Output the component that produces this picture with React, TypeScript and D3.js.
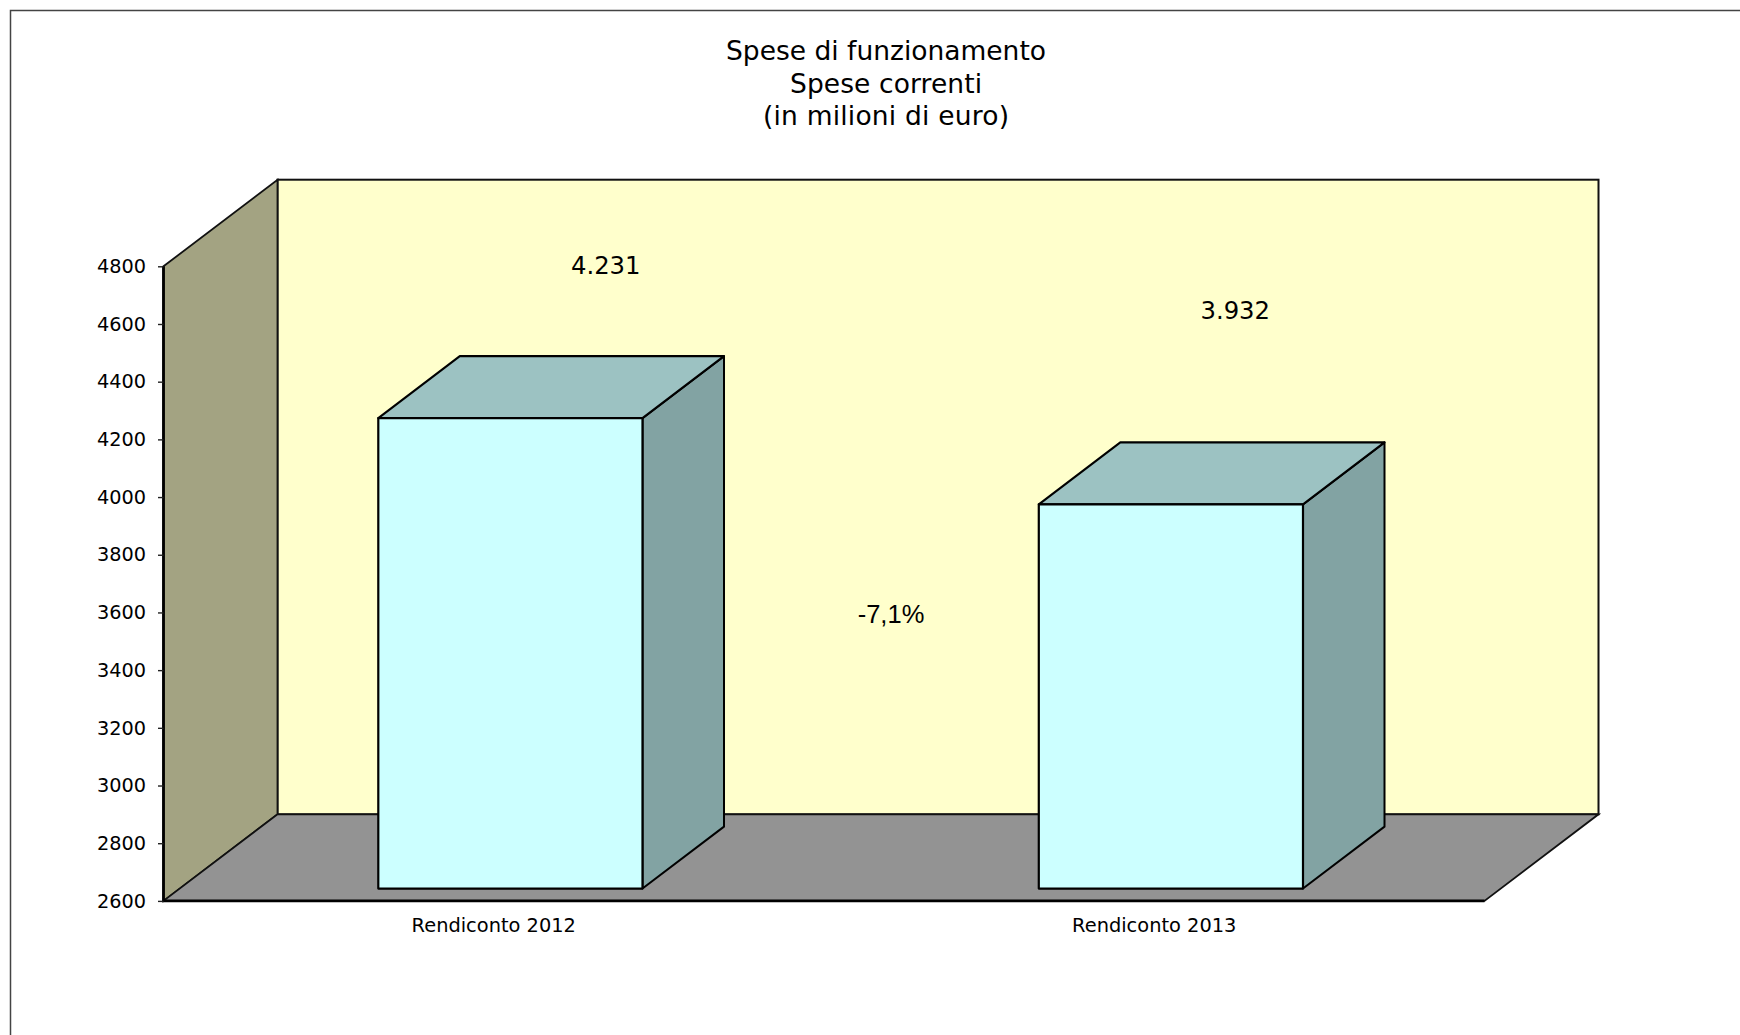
import React, { useEffect, useRef } from "react";
import * as d3 from "d3";

const categories = ["Rendiconto 2012", "Rendiconto 2013"];
const values = [4231, 3932];
const valueLabels = ["4.231", "3.932"];
const titleLines = ["Spese di funzionamento", "Spese correnti", "(in milioni di euro)"];
const ticks = [2600, 2800, 3000, 3200, 3400, 3600, 3800, 4000, 4200, 4400, 4600, 4800];
const changeLabel = "-7,1%";

const FONT = "'DejaVu Sans', Verdana, sans-serif";

const App: React.FC = () => {
  const svgRef = useRef<SVGSVGElement | null>(null);

  useEffect(() => {
    if (!svgRef.current) return;
    const svg = d3.select(svgRef.current);
    svg.selectAll("*").remove();

    const width = 1740;
    const height = 1035;

    // front plane of the box and depth of the 3d offset
    const left = 163.5;
    const right = 1484.5;
    const bottom = 900.9;
    const top = 266.3;
    const depthX = 114;
    const depthY = 86.6;
    const barDepth = 0.715;

    const y = d3.scaleLinear().domain([2600, 4800]).range([bottom, top]);
    const x = d3.scaleBand<string>().domain(categories).range([left, right]).paddingInner(0.6).paddingOuter(0.3);
    const line = d3.line().curve(d3.curveLinearClosed);

    svg.append("rect").attr("width", width).attr("height", height).attr("fill", "#fff");
    svg
      .append("rect")
      .attr("x", 10.5)
      .attr("y", 10.5)
      .attr("width", width + 20)
      .attr("height", height + 20)
      .attr("fill", "#fff")
      .attr("stroke", "#444")
      .attr("stroke-width", 1.5);

    // manual text box widths of the title lines
    const titleWidths = [320, 192, 246];
    svg
      .append("g")
      .attr("font-family", FONT)
      .attr("font-size", 26.5)
      .attr("text-anchor", "middle")
      .selectAll("text")
      .data(titleLines)
      .enter()
      .append("text")
      .attr("x", 886)
      .attr("y", (d, i) => 60 + i * 32.7)
      .attr("textLength", (d, i) => titleWidths[i])
      .text((d) => d);

    // back wall, side wall, floor
    svg
      .append("rect")
      .attr("x", left + depthX)
      .attr("y", top - depthY)
      .attr("width", right - left)
      .attr("height", bottom - top)
      .attr("fill", "#FFFFCC")
      .attr("stroke", "#111")
      .attr("stroke-width", 2);

    svg
      .append("path")
      .attr(
        "d",
        line([
          [left, top],
          [left + depthX, top - depthY],
          [left + depthX, bottom - depthY],
          [left, bottom]
        ])
      )
      .attr("fill", "#A3A382")
      .attr("stroke", "#111")
      .attr("stroke-width", 1.8);

    svg
      .append("path")
      .attr(
        "d",
        line([
          [left, bottom],
          [left + depthX, bottom - depthY],
          [right + depthX, bottom - depthY],
          [right, bottom]
        ])
      )
      .attr("fill", "#939393")
      .attr("stroke", "#111")
      .attr("stroke-width", 1.8);

    // thick front edges
    svg
      .append("path")
      .attr("d", `M${left},${top}V${bottom}H${right}`)
      .attr("fill", "none")
      .attr("stroke", "#000")
      .attr("stroke-width", 2.8);

    const axis = d3
      .axisLeft(y)
      .tickValues(ticks)
      .tickFormat(d3.format("d"))
      .tickSize(5.5)
      .tickPadding(12);
    const axisG = svg.append("g").attr("transform", `translate(${left},0)`).call(axis as any);
    axisG.select(".domain").remove();
    axisG.selectAll("line").attr("stroke", "#222").attr("stroke-width", 1.4);
    axisG.selectAll("text").attr("font-family", FONT).attr("font-size", 19.3).attr("fill", "#000");

    svg
      .append("g")
      .attr("font-family", FONT)
      .attr("font-size", 19.4)
      .attr("text-anchor", "middle")
      .selectAll("text")
      .data(categories)
      .enter()
      .append("text")
      .attr("x", (d) => (x(d) as number) + x.bandwidth() / 2)
      .attr("y", 932)
      .text((d) => d);

    // boxes: the front face sits in the middle of the depth
    const gapX = (depthX * (1 - barDepth)) / 2 + 0.4;
    const gapY = (depthY * (1 - barDepth)) / 2;
    const dx = depthX * barDepth;
    const dy = depthY * barDepth;

    const bars = svg
      .append("g")
      .selectAll("g")
      .data(categories)
      .enter()
      .append("g")
      .attr("stroke", "#000")
      .attr("stroke-linejoin", "round");

    bars.each(function (d, i) {
      const g = d3.select(this);
      const x0 = (x(d) as number) + gapX;
      const x1 = x0 + x.bandwidth();
      const y0 = bottom - gapY;
      const y1 = y(values[i]) - gapY;

      g.append("path")
        .attr(
          "d",
          line([
            [x1, y1],
            [x1 + dx, y1 - dy],
            [x1 + dx, y0 - dy],
            [x1, y0]
          ])
        )
        .attr("fill", "#82A3A3")
        .attr("stroke-width", 2);
      g.append("path")
        .attr(
          "d",
          line([
            [x0, y1],
            [x0 + dx, y1 - dy],
            [x1 + dx, y1 - dy],
            [x1, y1]
          ])
        )
        .attr("fill", "#9CC2C2")
        .attr("stroke-width", 2.1);
      g.append("rect")
        .attr("x", x0)
        .attr("y", y1)
        .attr("width", x1 - x0)
        .attr("height", y0 - y1)
        .attr("fill", "#CCFFFF")
        .attr("stroke-width", 2.2);
    });

    // hand placed labels, not anchored to the bars
    const labelDx = [112, 81];
    const labelDy = [156, 198];
    svg
      .append("g")
      .attr("font-family", FONT)
      .attr("font-size", 24.3)
      .attr("text-anchor", "middle")
      .selectAll("text")
      .data(valueLabels)
      .enter()
      .append("text")
      .attr("x", (d, i) => (x(categories[i]) as number) + x.bandwidth() / 2 + labelDx[i])
      .attr("y", (d, i) => y(values[i]) - labelDy[i])
      .text((d) => d);

    svg
      .append("text")
      .attr("x", 891)
      .attr("y", 623)
      .attr("font-family", "'Liberation Sans', Arial, sans-serif")
      .attr("font-size", 25.5)
      .attr("text-anchor", "middle")
      .text(changeLabel);
  }, []);

  return (
    <svg
      ref={svgRef}
      width={1740}
      height={1035}
      style={{ position: "fixed", left: 0, top: 0, display: "block" }}
    />
  );
};

export default App;
